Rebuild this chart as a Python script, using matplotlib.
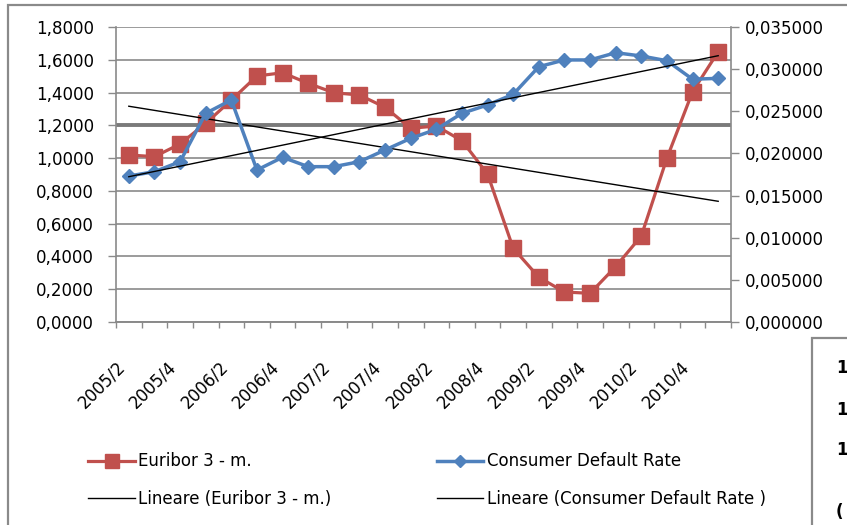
import numpy as np
import matplotlib
matplotlib.use("Agg")
import matplotlib.pyplot as plt
from matplotlib.ticker import FuncFormatter
from matplotlib.patches import Rectangle

# quarterly series, 2005/2 .. 2011/1
quarters = ["%d/%d" % (2005 + (q + 1) // 4, (q + 1) % 4 + 1) for q in range(24)]
euribor = [1.019, 1.009, 1.086, 1.212, 1.354, 1.501, 1.521, 1.456, 1.399, 1.385,
           1.310, 1.182, 1.196, 1.106, 0.903, 0.450, 0.273, 0.183, 0.175, 0.338,
           0.525, 1.000, 1.405, 1.649]
default_rate = [0.01732, 0.01783, 0.01902, 0.02476, 0.02634, 0.01803, 0.01954, 0.01843,
                0.01843, 0.01902, 0.02041, 0.02179, 0.02286, 0.02476, 0.02575, 0.02701,
                0.03029, 0.03109, 0.03109, 0.03195, 0.03156, 0.03100, 0.02880, 0.02891]
left_ticks = [0.0, 0.2, 0.4, 0.6, 0.8, 1.0, 1.2, 1.4, 1.6, 1.8]
right_ticks = [0.0, 0.005, 0.010, 0.015, 0.020, 0.025, 0.030, 0.035]

RED = "#C0504D"
BLUE = "#4F81BD"
GREY = "#8A8A8A"

x = np.arange(len(quarters))

fig = plt.figure(figsize=(8.47, 5.25), dpi=100)
ax = fig.add_axes([116/847, 1-322/525, 615/847, 295/525])
ax2 = ax.twinx()

# series
l1, = ax.plot(x, euribor, color=RED, lw=2.3, marker="s", ms=11.5, mec=RED, mfc=RED,
              label="Euribor 3 - m.", zorder=3)
l2, = ax2.plot(x, default_rate, color=BLUE, lw=2.5, marker="D", ms=7.5, mec=BLUE, mfc=BLUE,
               label="Consumer Default Rate", zorder=3)

# linear trend lines
k1 = np.polyfit(x, euribor, 1)
k2 = np.polyfit(x, default_rate, 1)
t1, = ax.plot(x[[0, -1]], np.polyval(k1, x[[0, -1]]), color="black", lw=1.0,
              label="Lineare (Euribor 3 - m.)", zorder=4)
t2, = ax2.plot(x[[0, -1]], np.polyval(k2, x[[0, -1]]), color="black", lw=1.0,
               label="Lineare (Consumer Default Rate )", zorder=4)

ax.set_xlim(-0.5, len(quarters) - 0.5)
ax.set_ylim(0, 1.8)
ax2.set_ylim(0, 0.035)
ax.set_yticks(left_ticks)
ax2.set_yticks(right_ticks)
ax.yaxis.set_major_formatter(FuncFormatter(lambda v, p: ("%.4f" % v).replace(".", ",")))
ax2.yaxis.set_major_formatter(FuncFormatter(lambda v, p: ("%.6f" % v).replace(".", ",")))

# tick marks between categories, labels on every other quarter
ax.set_xticks(np.arange(len(quarters) + 1) - 0.5)
ax.set_xticklabels([])
ax.set_xticks(x[::2], quarters[::2], minor=True)
ax.tick_params(axis="x", which="major", length=4, width=1, color=GREY, direction="out")
ax.tick_params(axis="x", which="minor", length=0, pad=26, labelsize=12, labelrotation=45)
for lab in ax.get_xticklabels(minor=True):
    lab.set_ha("right")
    lab.set_va("top")

ax.tick_params(axis="y", length=6, width=1, color=GREY, pad=10, labelsize=12)
ax2.tick_params(axis="y", length=6, width=1, color=GREY, pad=4, labelsize=12)

ax.grid(axis="y", color=GREY, lw=1.2)
thick = ax.get_ygridlines()[left_ticks.index(1.2)]
thick.set_linewidth(2.8)
thick.set_color("#7a7a7a")
ax.set_axisbelow(True)

for a in (ax, ax2):
    a.spines["top"].set_visible(False)
    for s in ("left", "right", "bottom"):
        a.spines[s].set_color(GREY)
        a.spines[s].set_linewidth(1.2)
ax2.spines["left"].set_visible(False)
ax.spines["right"].set_visible(False)

fig.legend(handles=[l1, t1, l2, t2], ncol=2, frameon=False, fontsize=12,
           loc="upper left", bbox_to_anchor=(80/847, 1-444/525), borderpad=0,
           handlelength=2.8, handletextpad=0.2, columnspacing=6.3, labelspacing=1.15,
           markerscale=0.85)

# chart frame and the neighbouring box
fig.patches.append(Rectangle((8/847, -0.1), 2, 1.1 - 5/525, transform=fig.transFigure,
                             fill=False, ec=GREY, lw=1.6))
fig.patches.append(Rectangle((812/847, -0.1), 1, 1.1 - 338/525, transform=fig.transFigure,
                             fill=False, ec=GREY, lw=1.6))
for yy, s in [(368, "1"), (410, "1"), (450, "1"), (512, "(")]:
    fig.text(836/847, 1 - yy/525, s, fontsize=12, fontweight="bold", va="center")

fig.savefig("out.png", dpi=100)
